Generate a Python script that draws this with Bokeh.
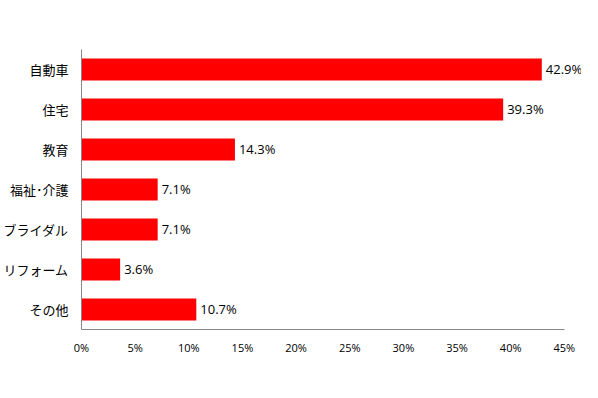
from bokeh.plotting import figure
from bokeh.models import ColumnDataSource, Range1d, FactorRange, FixedTicker, LabelSet
from bokeh.core.properties import value
from bokeh.embed import file_html
from bokeh.resources import INLINE

categories = ["自動車", "住宅", "教育", "福祉･介護", "ブライダル", "リフォーム", "その他"]
values = [42.9, 39.3, 14.3, 7.1, 7.1, 3.6, 10.7]
tick_values = [0, 5, 10, 15, 20, 25, 30, 35, 40, 45]

src = ColumnDataSource(dict(
    cat=categories,
    val=values,
    label=[f"{v:.1f}%" for v in values],
))

x_max = 46.6

p = figure(width=582, height=376, output_backend="svg", toolbar_location=None,
           y_range=FactorRange(*list(reversed(categories)), range_padding=0),
           x_range=Range1d(0, x_max),
           min_border_left=79, min_border_right=0, min_border_top=49, min_border_bottom=47)
p.frame_width = int(round(483 * x_max / 45.0))
p.frame_height = 280

p.hbar(y="cat", right="val", left=0, height=0.55, source=src, color="#ff0000", line_color=None)

labels = LabelSet(x="val", y="cat", text="label", source=src, x_offset=4, y_offset=1,
                  text_baseline="middle", text_font=value("Open Sans"), text_font_size="13px",
                  text_color="#000000")
p.add_layout(labels)

p.xgrid.visible = False
p.ygrid.visible = False
p.outline_line_color = None

p.xaxis.ticker = FixedTicker(ticks=tick_values)
p.xaxis.bounds = (0, 45)
p.xaxis.major_label_overrides = {t: f"{t}%" for t in tick_values}
p.xaxis.major_tick_line_color = None
p.xaxis.minor_tick_line_color = None
p.xaxis.axis_line_color = "#868686"
p.xaxis.major_label_text_font = "Open Sans"
p.xaxis.major_label_text_font_size = "11px"
p.xaxis.major_label_text_color = "#000000"
p.xaxis.major_label_standoff = 4

p.yaxis.major_tick_line_color = None
p.yaxis.minor_tick_line_color = None
p.yaxis.axis_line_color = "#868686"
p.yaxis.major_label_text_font = "Noto Sans CJK JP"
p.yaxis.major_label_text_font_size = "13px"
p.yaxis.major_label_text_color = "#000000"
p.yaxis.major_label_standoff = 7

open("out.html", "w").write(file_html(p, INLINE))
